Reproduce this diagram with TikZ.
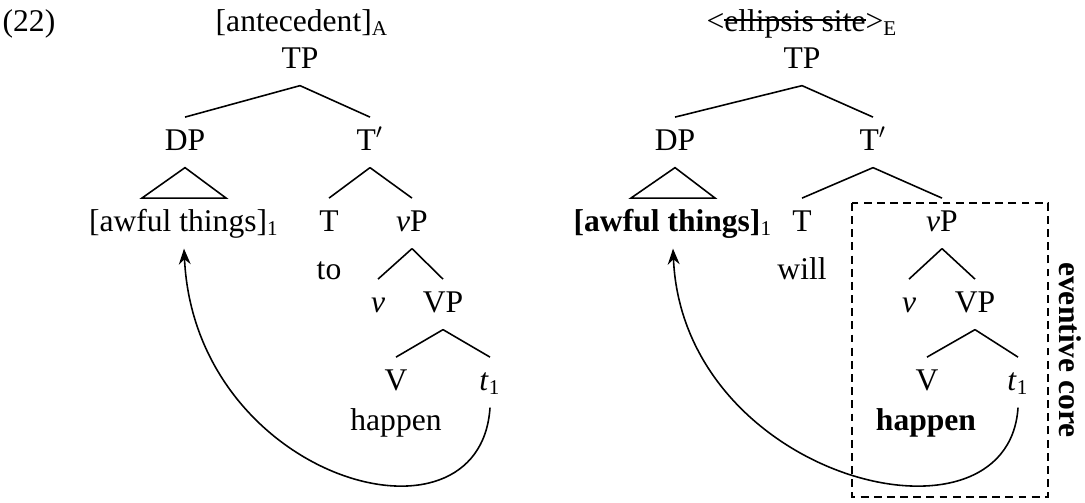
\documentclass[tikz,border=0pt]{standalone}
\usepackage{fontspec}
\setmainfont{Liberation Serif}
\usetikzlibrary{arrows.meta}
\newsavebox\strikebox
\newcommand{\struckout}[1]{\sbox\strikebox{#1}\rlap{\rule[0.32em]{\wd\strikebox}{0.7pt}}\usebox\strikebox}
\tikzset{
    cat/.style = {
        anchor=base,
        text height=8pt,
        text depth=2.2pt,
        inner xsep=0pt,
        inner ysep=4.3pt
    },
    branch/.style = {
        line width=0.6pt
    },
    corebox/.style = {
        draw,
        dash pattern=on 3pt off 2pt,
        line width=0.6pt
    },
    >={Stealth[length=6pt,width=4.5pt]},
}
\begin{document}
\begin{tikzpicture}[x=0.38pt, y=-0.38pt, font=\fontsize{12}{14}\selectfont]
            \useasboundingbox (0,0) rectangle (1085,502);

            \node[cat] (exno) at (29,31) {(22)};

            \node[cat] (hdr1) at (302,31) {[antecedent]\textsubscript{A}};
            \node[cat] (tp1) at (300,68) {TP};
            \node[cat] (dp1) at (185,150) {DP};
            \node[cat] (tbar1) at (370,150) {T$'$};
            \node[cat] (dpc1) at (184,231) {[awful things]\textsubscript{1}};
            \node[cat] (t1) at (329,231) {T};
            \node[cat] (vp1) at (412,231) {\textit{v}P};
            \node[cat] (to1) at (329,279) {to};
            \node[cat] (v1) at (378,312) {\textit{v}};
            \node[cat] (bigvp1) at (443,312) {VP};
            \node[cat] (bigv1) at (396,390) {V};
            \node[cat] (tr1) at (490,390) {\textit{t}\textsubscript{1}};
            \node[cat] (verb1) at (396,430) {happen};

            \path[draw, branch] (tp1.south) -- (dp1.north);
            \path[draw, branch] (tp1.south) -- (tbar1.north);
            \path[draw, branch] (dp1.south) -- ([xshift=-16pt]dpc1.north) -- ([xshift=16pt]dpc1.north) -- cycle;
            \path[draw, branch] (tbar1.south) -- (t1.north);
            \path[draw, branch] (tbar1.south) -- (vp1.north);
            \path[draw, branch] (vp1.south) -- (v1.north);
            \path[draw, branch] (vp1.south) -- (bigvp1.north);
            \path[draw, branch] (bigvp1.south) -- (bigv1.north);
            \path[draw, branch] (bigvp1.south) -- (tr1.north);
            \path[draw, branch, ->] (tr1.south) .. controls (480,560) and (195,480) .. (dpc1.south);

            \node[cat] (hdr2) at (802,31) {<\struckout{ellipsis site}>\textsubscript{E}};
            \node[cat] (tp2) at (802,68) {TP};
            \node[cat] (dp2) at (675,150) {DP};
            \node[cat] (tbar2) at (873,150) {T$'$};
            \node[cat] (dpc2) at (673,231) {\textbf{[awful things]}\textsubscript{1}};
            \node[cat] (t2) at (802,231) {T};
            \node[cat] (vp2) at (942,231) {\textit{v}P};
            \node[cat] (will2) at (802,279) {will};
            \node[cat] (v2) at (909,312) {\textit{v}};
            \node[cat] (bigvp2) at (975,312) {VP};
            \node[cat] (bigv2) at (927,390) {V};
            \node[cat] (tr2) at (1018,390) {\textit{t}\textsubscript{1}};
            \node[cat] (verb2) at (926,430) {\textbf{happen}};

            \path[draw, branch] (tp2.south) -- (dp2.north);
            \path[draw, branch] (tp2.south) -- (tbar2.north);
            \path[draw, branch] (dp2.south) -- ([xshift=-16pt]dpc2.north) -- ([xshift=16pt]dpc2.north) -- cycle;
            \path[draw, branch] (tbar2.south) -- (t2.north);
            \path[draw, branch] (tbar2.south) -- (vp2.north);
            \path[draw, branch] (vp2.south) -- (v2.north);
            \path[draw, branch] (vp2.south) -- (bigvp2.north);
            \path[draw, branch] (bigvp2.south) -- (bigv2.north);
            \path[draw, branch] (bigvp2.south) -- (tr2.north);
            \path[draw, branch, ->] (tr2.south) .. controls (1008,560) and (683,480) .. (dpc2.south);

            \coordinate (corenw) at (852,203);
            \coordinate (corese) at (1048,497);
            \path[corebox] (corenw) rectangle (corese);
            \node[rotate=-90] (corelabel) at (1070,350) {\bfseries eventive core};

        \end{tikzpicture}
\end{document}
